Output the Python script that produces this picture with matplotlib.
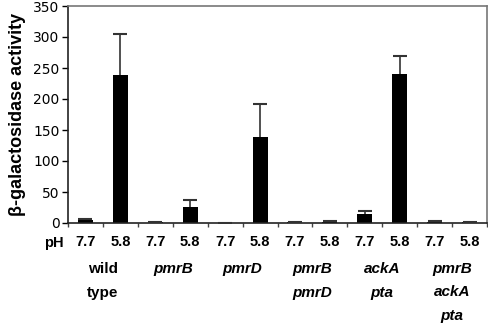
import matplotlib
matplotlib.use("Agg")
import matplotlib.pyplot as plt
import matplotlib.transforms as mtransforms
import numpy as np

ph_labels = ["7.7", "5.8"] * 6
values = [5, 238, 1, 26, 0.5, 139, 1, 2, 15, 240, 2, 1]
errors = [1, 67, 0.5, 11, 0.3, 53, 0.5, 1.5, 4, 29, 1.5, 1]
groups = [["wild", "type"], ["pmrB"], ["pmrD"], ["pmrB", "pmrD"],
          ["ackA", "pta"], ["pmrB", "ackA", "pta"]]
group_italic = [False, True, True, True, True, True]
y_ticks = [0, 50, 100, 150, 200, 250, 300, 350]

fig = plt.figure(figsize=(4.88, 3.23), dpi=100)
ax = fig.add_axes([68/488, 1-223/323, (487-68)/488, (223-6)/323])

x = np.arange(len(values))
ax.bar(x, values, width=0.43, color="black", zorder=2)
eb = ax.errorbar(x, values, yerr=[np.zeros(len(errors)), errors], fmt="none",
                 ecolor="#333333", elinewidth=1.2, capsize=5, capthick=1.5, zorder=3)
eb[1][0].set_visible(False)

ax.set_xlim(-0.5, len(values) - 0.5)
ax.set_ylim(0, 350)
ax.set_yticks(y_ticks)
ax.set_yticklabels([str(v) for v in y_ticks], fontsize=10, family="DejaVu Sans")
ax.tick_params(axis="y", direction="out", length=4, width=1, pad=2)

ax.set_xticks(x)
ax.set_xticklabels(ph_labels, fontsize=10.5, fontweight="bold", family="Liberation Sans")
ax.tick_params(axis="x", which="major", length=0, pad=9)
ax.set_xticks(np.arange(-0.5, len(values), 1), minor=True)
ax.tick_params(axis="x", which="minor", direction="out", length=3, width=1, color="#444444")

for side in ["top", "right"]:
    ax.spines[side].set_color("#777777")
    ax.spines[side].set_linewidth(1.2)
for side in ["left", "bottom"]:
    ax.spines[side].set_color("#222222")
    ax.spines[side].set_linewidth(1.2)

ax.set_ylabel("β-galactosidase activity", fontsize=13, fontweight="bold",
              family="Liberation Sans", labelpad=5)

trans = mtransforms.blended_transform_factory(ax.transData, fig.transFigure)
ax.text(-0.62, 1-243/323, "pH", transform=trans, ha="right", va="center",
        fontsize=10.5, fontweight="bold", family="Liberation Sans")

for i, (lines, it) in enumerate(zip(groups, group_italic)):
    cx = 2 * i + 0.5
    for j, line in enumerate(lines):
        ax.text(cx, 1 - (269 + 23.5 * j)/323, line, transform=trans, ha="center",
                va="center", fontsize=11, fontweight="bold",
                style="italic" if it else "normal", family="Liberation Sans")

fig.savefig("out.png", dpi=100)
